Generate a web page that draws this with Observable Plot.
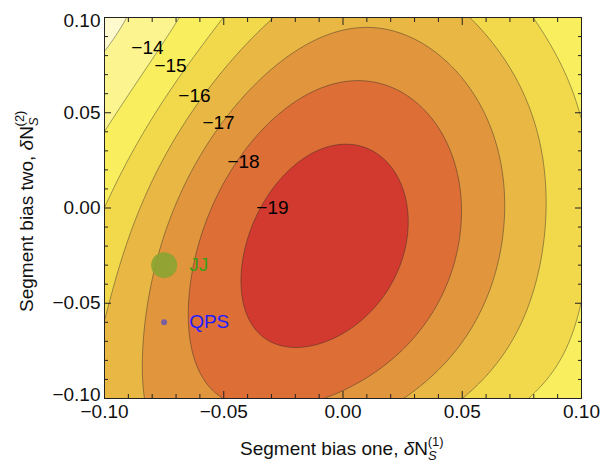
<!DOCTYPE html>
<html>
<head>
<meta charset="utf-8">
<script src="https://cdn.jsdelivr.net/npm/d3@7"></script>
<script src="https://cdn.jsdelivr.net/npm/@observablehq/plot@0.6"></script>
<style>
  html, body { margin: 0; padding: 0; background: #fff; }
</style>
</head>
<body>
<div id="chart"></div>
<script>
// ---- Contour levels and band colours ----
const levels = [-19, -18, -17, -16, -15, -14, -13];
const bandFloor = [-30, -19, -18, -17, -16, -15, -14, -13];
const bandColors = ["#d23a2f", "#dc6e36", "#e1953c", "#e9b743", "#f2d84b", "#f8ee5e", "#fcf58f", "#fefacd"];

// ---- Points (x = δN_S^(1), y = δN_S^(2)) ----
const line13 = [[-0.0904, 0.100], [-0.0954, 0.0906], [-0.1000, 0.0811]];
const line14 = [[-0.0698, 0.100], [-0.0757, 0.0869], [-0.0866, 0.0669], [-0.1000, 0.0412]];
const line15 = [[-0.0509, 0.100], [-0.0654, 0.0767], [-0.0783, 0.0523], [-0.0899, 0.0268], [-0.1000, 0.0003],
                [0.0799, 0.100], [0.0908, 0.0764], [0.1000, 0.0459], [0.1000, -0.0512], [0.0912, -0.0816], [0.0786, -0.100]];
const line16 = [[-0.0275, 0.100], [-0.0463, 0.0774], [-0.0543, 0.0659], [-0.0754, 0.0274], [-0.0906, -0.0151], [-0.1000, -0.0617],
                [0.0530, 0.100], [0.0694, 0.0748], [0.0799, 0.0423], [0.0858, 0.0024], [0.0858, -0.0118], [0.0799, -0.0470], [0.0660, -0.0790], [0.0518, -0.100]];
const line17 = [[0.0103, 0.0948], [-0.0220, 0.0800], [-0.0442, 0.0486], [-0.0597, 0.0249], [-0.0744, -0.0170], [-0.0836, -0.0695], [-0.0820, -0.100],
                [0.0451, 0.0748], [0.0660, 0.0213], [0.0669, 0.0024], [0.0660, -0.0170], [0.0535, -0.0643], [0.0245, -0.100]];
const line18 = [[0.0073, 0.0680], [-0.0178, 0.0564], [-0.0346, 0.0286], [-0.0597, -0.0207], [-0.0639, -0.0695], [-0.0610, -0.0869], [-0.0556, -0.0947], [-0.0505, -0.100],
                [-0.0090, -0.100], [0.0178, -0.0800], [0.0367, -0.0501], [0.0476, 0.0039], [0.0367, 0.0496]];
const line19 = [[0.0002, 0.0375], [-0.0291, 0.0197], [-0.0442, -0.0396], [-0.0388, -0.0627], [-0.0220, -0.0743],
                [0.0187, -0.0449], [0.0283, -0.0029], [0.0187, 0.0249]];
// estimated values away from the lines: [x, y, value]
const extraValues = [[-0.010, -0.018, -19.7], [-0.1, 0.1, -12.55], [0.1, 0.1, -14.3], [0.1, -0.1, -14.25], [-0.1, -0.1, -16.6]];

// ---- Contour labels ----
const labelX = [-0.0820, -0.0723, -0.0623, -0.0522, -0.0417, -0.0296];
const labelY = [0.0843, 0.0748, 0.0591, 0.0449, 0.0244, 0.0003];
const labelText = ["\u221214", "\u221215", "\u221216", "\u221217", "\u221218", "\u221219"];

// ---- Marked points ----
const pointName = ["JJ", "QPS"];
const pointX = [-0.075, -0.075];
const pointY = [-0.030, -0.060];

// ---- Ticks ----
const majorTicks = [-0.10, -0.05, 0.00, 0.05, 0.10];
const minorTicks = d3.range(-10, 11).map(d => d / 100).filter(d => Math.abs(Math.round(d * 100) % 5) !== 0);

// ---- Build a smooth surface through the readings (least-squares polynomial) ----
function fitSurface(samples, degree, ridge) {
  const terms = [];
  for (let i = 0; i <= degree; i++) for (let j = 0; j <= degree - i; j++) terms.push([i, j]);
  const n = terms.length;
  const A = Array.from({length: n}, () => new Float64Array(n + 1));
  for (const [x, y, z, w] of samples) {
    const u = x * 10, v = y * 10;
    const phi = terms.map(([i, j]) => Math.pow(u, i) * Math.pow(v, j));
    for (let r = 0; r < n; r++) {
      A[r][n] += w * phi[r] * z;
      for (let c = 0; c < n; c++) A[r][c] += w * phi[r] * phi[c];
    }
  }
  for (let r = 0; r < n; r++) A[r][r] += ridge;
  for (let col = 0; col < n; col++) {
    let piv = col;
    for (let r = col + 1; r < n; r++) if (Math.abs(A[r][col]) > Math.abs(A[piv][col])) piv = r;
    [A[col], A[piv]] = [A[piv], A[col]];
    for (let r = 0; r < n; r++) {
      if (r === col) continue;
      const f = A[r][col] / A[col][col];
      if (f === 0) continue;
      for (let c = col; c <= n; c++) A[r][c] -= f * A[col][c];
    }
  }
  const coef = A.map((row, i) => row[n] / row[i]);
  return (x, y) => {
    const u = x * 10, v = y * 10;
    let s = 0;
    for (let k = 0; k < n; k++) s += coef[k] * Math.pow(u, terms[k][0]) * Math.pow(v, terms[k][1]);
    return s;
  };
}

const samples = [];
const onEdge = (x, y) => Math.abs(Math.abs(x) - 0.1) < 1e-9 || Math.abs(Math.abs(y) - 0.1) < 1e-9;
[[line13, -13], [line14, -14], [line15, -15], [line16, -16], [line17, -17], [line18, -18], [line19, -19]]
  .forEach(([pts, lv]) => pts.forEach(([x, y]) => samples.push([x, y, lv, lv === -19 ? 3 : onEdge(x, y) ? 3 : lv === -18 ? 2 : 1])));
extraValues.forEach(([x, y, z]) => samples.push([x, y, z, 0.4]));
const surface = fitSurface(samples, 5, 1e-4);

const labels = labelText.map((t, i) => ({x: labelX[i], y: labelY[i], t}));
const points = pointName.map((name, i) => ({name, x: pointX[i], y: pointY[i]}));
const jj = points.filter(d => d.name === "JJ");
const qps = points.filter(d => d.name === "QPS");

const fmt = d3.format(".2f");
const ink = "#222";
const domain = {x1: -0.1, x2: 0.1, y1: -0.1, y2: 0.1};
const font = "'Liberation Sans', Arial, sans-serif";

const plot = Plot.plot({
  width: 611,
  height: 462,
  marginLeft: 104,
  marginRight: 30,
  marginTop: 17,
  marginBottom: 64,
  style: {fontFamily: font, fontSize: "19px", background: "#fff", color: "#111"},
  x: {domain: [-0.1, 0.1], label: null},
  y: {domain: [-0.1, 0.1], label: null},
  color: {type: "ordinal", domain: bandFloor, range: bandColors},
  marks: [
    Plot.contour({...domain, fill: surface, thresholds: bandFloor, pixelSize: 1, stroke: "none"}),
    Plot.contour({...domain, fill: surface, thresholds: levels, pixelSize: 1, fillOpacity: 0, stroke: "#2a2a2a", strokeOpacity: 0.55, strokeWidth: 0.8}),
    Plot.dot(jj, {x: "x", y: "y", r: 13, fill: "#8aa432", fillOpacity: 0.9, ariaLabel: "jj"}),
    Plot.dot(qps, {x: "x", y: "y", r: 3, fill: "#7b5ea0"}),
    Plot.text(jj, {x: "x", y: "y", text: "name", dx: 25, textAnchor: "start", fontSize: 19, fill: "#3f9e16"}),
    Plot.text(qps, {x: "x", y: "y", text: "name", dx: 25, textAnchor: "start", fontSize: 19, fill: "#1f1fff"}),
    Plot.text(labels, {x: "x", y: "y", text: "t", fontSize: 19, fill: "#000"}),
    Plot.frame({stroke: ink}),
    Plot.axisX(majorTicks, {anchor: "bottom", tickSize: -7, tickPadding: 13, tickFormat: fmt, stroke: ink, fill: "#111"}),
    Plot.axisX(majorTicks, {anchor: "top", tickSize: -7, tickFormat: () => "", stroke: ink}),
    Plot.axisX(minorTicks, {anchor: "bottom", tickSize: -4, tickFormat: () => "", stroke: ink}),
    Plot.axisX(minorTicks, {anchor: "top", tickSize: -4, tickFormat: () => "", stroke: ink}),
    Plot.axisY(majorTicks, {anchor: "left", tickSize: -7, tickFormat: () => "", stroke: ink}),
    Plot.axisY(majorTicks.slice(1, 4), {anchor: "left", tickSize: 0, tickPadding: 4, tickFormat: fmt, fill: "#111"}),
    Plot.axisY([0.10], {anchor: "left", tickSize: 0, tickPadding: 4, tickFormat: fmt, fill: "#111", dy: 3}),
    Plot.axisY([-0.10], {anchor: "left", tickSize: 0, tickPadding: 4, tickFormat: fmt, fill: "#111", dy: -4}),
    Plot.axisY(majorTicks, {anchor: "right", tickSize: -7, tickFormat: () => "", stroke: ink}),
    Plot.axisY(minorTicks, {anchor: "left", tickSize: -4, tickFormat: () => "", stroke: ink}),
    Plot.axisY(minorTicks, {anchor: "right", tickSize: -4, tickFormat: () => "", stroke: ink})
  ]
});

document.getElementById("chart").appendChild(plot);

const svg = d3.select(plot);
// JJ marker is an ellipse (wider than tall)
svg.selectAll("g[aria-label='jj'] circle").each(function() {
  const cx = +this.getAttribute("cx"), cy = +this.getAttribute("cy");
  if (!isNaN(cx) && !isNaN(cy)) this.setAttribute("transform", `translate(${cx},${cy}) scale(1.12,0.89) translate(${-cx},${-cy})`);
});

// axis titles with sub/superscripts
function axisTitle(sel, label, sup) {
  const t = sel.append("text")
    .attr("font-family", font)
    .attr("text-anchor", "start")
    .attr("font-size", 19).attr("fill", "#111");
  t.append("tspan").text(label);
  t.append("tspan").attr("font-style", "italic").text("\u03b4");
  t.append("tspan").text("N");
  t.append("tspan").attr("font-style", "italic").attr("font-size", 13).attr("dy", 5).text("S");
  t.append("tspan").attr("font-size", 13).attr("dx", -9).attr("dy", -14).text(sup);
  return t;
}
axisTitle(svg, "Segment bias one, ", "(1)").attr("x", 240).attr("y", 455);
axisTitle(svg.append("g").attr("transform", "translate(33,312) rotate(-90)"), "Segment bias two, ", "(2)").attr("x", 0).attr("y", 0);
</script>
</body>
</html>
